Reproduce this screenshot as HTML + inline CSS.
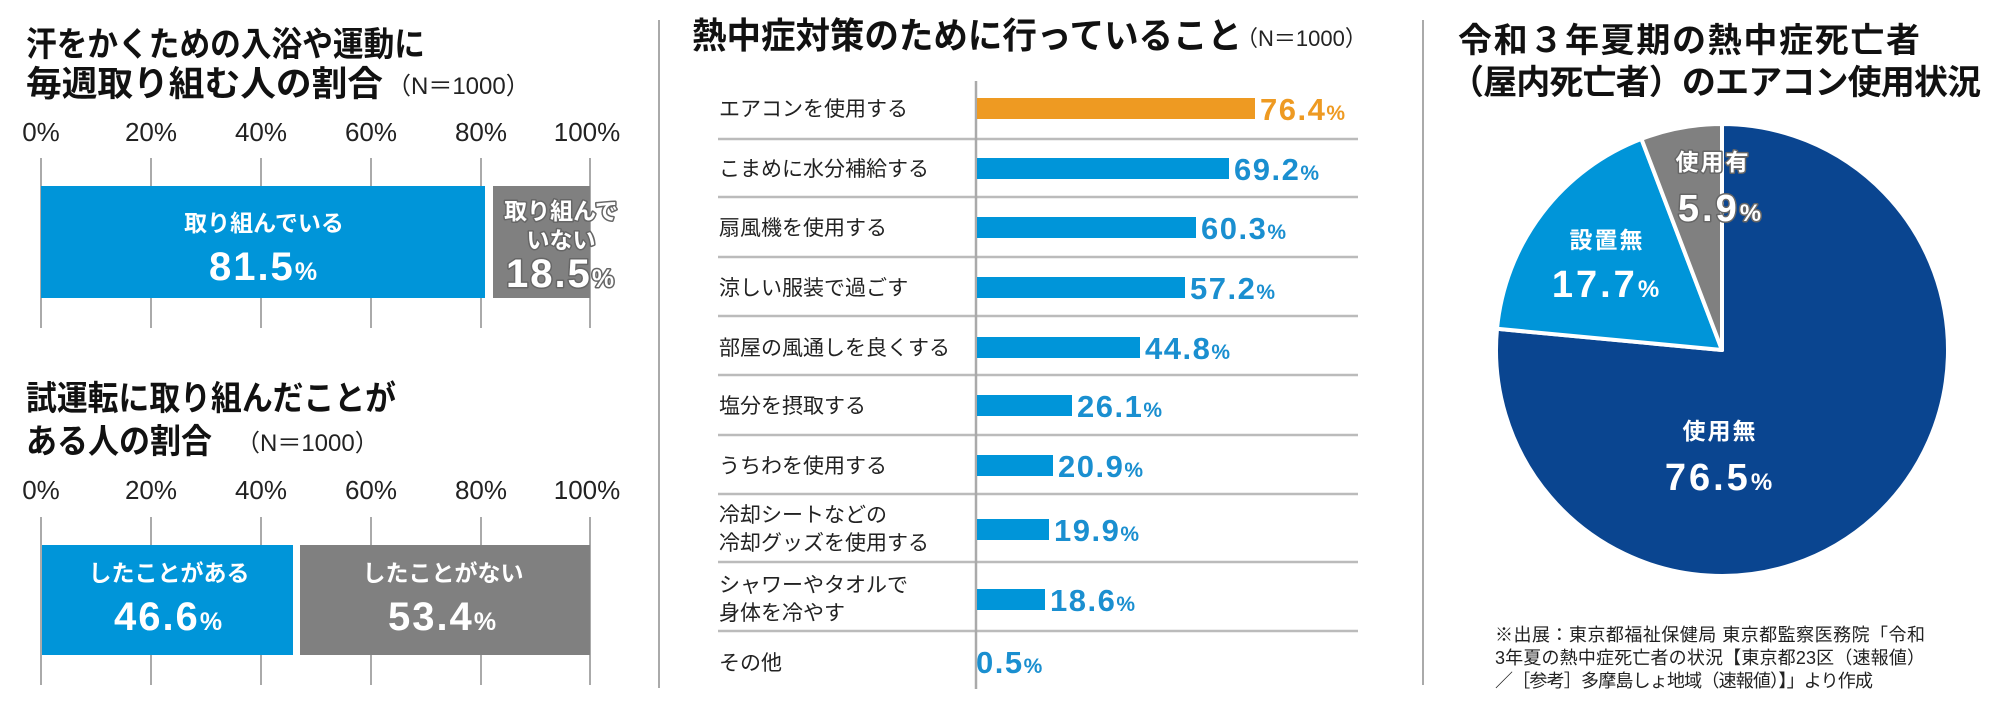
<!DOCTYPE html>
<html><head><meta charset="utf-8"><style>
html,body{margin:0;padding:0;background:#fff;}
svg{display:block;}
text{font-family:"Liberation Sans","Noto Sans CJK JP",sans-serif;}
.t{font-weight:bold;fill:#111;}
.n{font-weight:normal;fill:#222;}
.w{fill:#fff;font-weight:bold;}
.o{fill:#fff;font-weight:bold;stroke:#666;stroke-width:3px;paint-order:stroke;stroke-linejoin:round;}
.lb{fill:#222;font-size:21px;}
.v{fill:#1a8fd0;font-weight:bold;font-size:31px;letter-spacing:1.5px;}
</style></head><body>
<svg width="2000" height="701" viewBox="0 0 2000 701" xmlns="http://www.w3.org/2000/svg">
<!-- dividers -->
<line x1="659" y1="20" x2="659" y2="688" stroke="#aaa" stroke-width="2"/>
<line x1="1423" y1="20" x2="1423" y2="685" stroke="#aaa" stroke-width="2"/>

<!-- Chart 1 -->
<text class="t" x="26" y="56" font-size="34" textLength="399" lengthAdjust="spacingAndGlyphs">汗をかくための入浴や運動に</text>
<text class="t" x="26" y="96" font-size="35" textLength="357" lengthAdjust="spacingAndGlyphs">毎週取り組む人の割合</text>
<text class="n" x="387" y="94" font-size="24">（N＝1000）</text>
<g class="n" font-size="26" text-anchor="middle">
<text x="41" y="141">0%</text><text x="151" y="141">20%</text><text x="261" y="141">40%</text><text x="371" y="141">60%</text><text x="481" y="141">80%</text><text x="587" y="141">100%</text>
</g>
<g stroke="#aaa" stroke-width="2">
<line x1="41" y1="158" x2="41" y2="328"/><line x1="151" y1="158" x2="151" y2="328"/><line x1="261" y1="158" x2="261" y2="328"/><line x1="371" y1="158" x2="371" y2="328"/><line x1="481" y1="158" x2="481" y2="328"/><line x1="590" y1="158" x2="590" y2="328"/>
</g>
<rect x="41" y="186" width="444" height="112" fill="#0095d9"/>
<rect x="493" y="186" width="97" height="112" fill="#808080"/>
<text class="w" x="264" y="231" font-size="23" text-anchor="middle">取り組んでいる</text>
<text class="w" x="264" y="280" font-size="40" letter-spacing="2" text-anchor="middle">81.5<tspan font-size="25">%</tspan></text>
<text class="o" x="561" y="219" font-size="23" text-anchor="middle">取り組んで</text>
<text class="o" x="561" y="248" font-size="23" text-anchor="middle">いない</text>
<text class="o" x="561" y="287" font-size="40" letter-spacing="2" text-anchor="middle">18.5<tspan font-size="25">%</tspan></text>

<!-- Chart 2 -->
<text class="t" x="26" y="410" font-size="34" textLength="370" lengthAdjust="spacingAndGlyphs">試運転に取り組んだことが</text>
<text class="t" x="26" y="453" font-size="34" textLength="186" lengthAdjust="spacingAndGlyphs">ある人の割合</text>
<text class="n" x="236" y="451" font-size="24">（N＝1000）</text>
<g class="n" font-size="26" text-anchor="middle">
<text x="41" y="499">0%</text><text x="151" y="499">20%</text><text x="261" y="499">40%</text><text x="371" y="499">60%</text><text x="481" y="499">80%</text><text x="587" y="499">100%</text>
</g>
<g stroke="#aaa" stroke-width="2">
<line x1="41" y1="517" x2="41" y2="685"/><line x1="151" y1="517" x2="151" y2="685"/><line x1="261" y1="517" x2="261" y2="685"/><line x1="371" y1="517" x2="371" y2="685"/><line x1="481" y1="517" x2="481" y2="685"/><line x1="590" y1="517" x2="590" y2="685"/>
</g>
<rect x="42" y="545" width="251" height="110" fill="#0095d9"/>
<rect x="300" y="545" width="290" height="110" fill="#808080"/>
<text class="w" x="169" y="581" font-size="23" text-anchor="middle">したことがある</text>
<text class="w" x="169" y="630" font-size="40" letter-spacing="2" text-anchor="middle">46.6<tspan font-size="25">%</tspan></text>
<text class="w" x="443" y="581" font-size="23" text-anchor="middle">したことがない</text>
<text class="w" x="443" y="630" font-size="40" letter-spacing="2" text-anchor="middle">53.4<tspan font-size="25">%</tspan></text>

<!-- Middle chart -->
<text class="t" x="692" y="48" font-size="36" textLength="550" lengthAdjust="spacingAndGlyphs">熱中症対策のために行っていること</text>
<text class="n" x="1236" y="46" font-size="22">（N＝1000）</text>
<g stroke="#bbb" stroke-width="2.5">
<line x1="718" y1="139" x2="1358" y2="139"/><line x1="718" y1="197" x2="1358" y2="197"/><line x1="718" y1="257" x2="1358" y2="257"/><line x1="718" y1="316" x2="1358" y2="316"/><line x1="718" y1="375" x2="1358" y2="375"/><line x1="718" y1="435" x2="1358" y2="435"/><line x1="718" y1="494" x2="1358" y2="494"/><line x1="718" y1="562" x2="1358" y2="562"/><line x1="718" y1="631" x2="1358" y2="631"/>
</g>
<line x1="976" y1="81" x2="976" y2="689" stroke="#aaa" stroke-width="2.5"/>
<rect x="977" y="98" width="278" height="21" fill="#ee9a22"/>
<rect x="977" y="158" width="252" height="21" fill="#0095d9"/>
<rect x="977" y="217" width="219" height="21" fill="#0095d9"/>
<rect x="977" y="277" width="208" height="21" fill="#0095d9"/>
<rect x="977" y="337" width="163" height="21" fill="#0095d9"/>
<rect x="977" y="395" width="95" height="21" fill="#0095d9"/>
<rect x="977" y="455" width="76" height="21" fill="#0095d9"/>
<rect x="977" y="519" width="72" height="21" fill="#0095d9"/>
<rect x="977" y="589" width="68" height="21" fill="#0095d9"/>
<g class="lb">
<text x="719" y="116">エアコンを使用する</text>
<text x="719" y="176">こまめに水分補給する</text>
<text x="719" y="235">扇風機を使用する</text>
<text x="719" y="295">涼しい服装で過ごす</text>
<text x="719" y="355">部屋の風通しを良くする</text>
<text x="719" y="413">塩分を摂取する</text>
<text x="719" y="473">うちわを使用する</text>
<text x="719" y="522">冷却シートなどの</text>
<text x="719" y="550">冷却グッズを使用する</text>
<text x="719" y="592">シャワーやタオルで</text>
<text x="719" y="620">身体を冷やす</text>
<text x="719" y="670">その他</text>
</g>
<text class="v" x="1260" y="120" style="fill:#ee9a22">76.4<tspan font-size="21">%</tspan></text>
<text class="v" x="1234" y="180">69.2<tspan font-size="21">%</tspan></text>
<text class="v" x="1201" y="239">60.3<tspan font-size="21">%</tspan></text>
<text class="v" x="1190" y="299">57.2<tspan font-size="21">%</tspan></text>
<text class="v" x="1145" y="359">44.8<tspan font-size="21">%</tspan></text>
<text class="v" x="1077" y="417">26.1<tspan font-size="21">%</tspan></text>
<text class="v" x="1058" y="477">20.9<tspan font-size="21">%</tspan></text>
<text class="v" x="1054" y="541">19.9<tspan font-size="21">%</tspan></text>
<text class="v" x="1050" y="611">18.6<tspan font-size="21">%</tspan></text>
<text class="v" x="976" y="673">0.5<tspan font-size="21">%</tspan></text>

<!-- Pie chart -->
<text class="t" x="1458" y="52" font-size="34" textLength="462">令和３年夏期の熱中症死亡者</text>
<text class="t" x="1450" y="94" font-size="34" textLength="531">（屋内死亡者）のエアコン使用状況</text>
<g stroke="#fff" stroke-width="4" stroke-linejoin="round">
<path d="M1722,350 L1722,124 A226,226 0 1 1 1497,328.8 Z" fill="#0a4590"/>
<path d="M1722,350 L1497,328.8 A226,226 0 0 1 1641.4,138.9 Z" fill="#0095d9"/>
<path d="M1722,350 L1641.4,138.9 A226,226 0 0 1 1722,124 Z" fill="#808080"/>
</g>
<text class="o" x="1713" y="170" font-size="23" letter-spacing="2" text-anchor="middle">使用有</text>
<text class="o" x="1721" y="221" font-size="38" letter-spacing="3" text-anchor="middle">5.9<tspan font-size="24">%</tspan></text>
<text class="w" x="1607" y="248" font-size="23" letter-spacing="2" text-anchor="middle">設置無</text>
<text class="w" x="1607" y="297" font-size="38" letter-spacing="3" text-anchor="middle">17.7<tspan font-size="24">%</tspan></text>
<text class="w" x="1720" y="439" font-size="23" letter-spacing="2" text-anchor="middle">使用無</text>
<text class="w" x="1720" y="490" font-size="38" letter-spacing="3" text-anchor="middle">76.5<tspan font-size="24">%</tspan></text>
<g fill="#222" font-size="18">
<text x="1495" y="641" textLength="430">※出展：東京都福祉保健局 東京都監察医務院「令和</text>
<text x="1495" y="664" textLength="430">3年夏の熱中症死亡者の状況【東京都23区（速報値）</text>
<text x="1495" y="687" textLength="378">／［参考］多摩島しょ地域（速報値）】」より作成</text>
</g>
</svg>
</body></html>
